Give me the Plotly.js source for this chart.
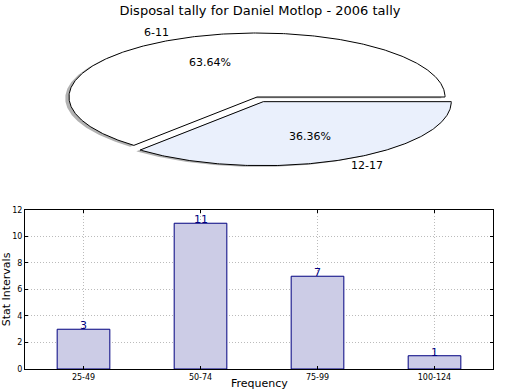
<!DOCTYPE html>
<html>
<head>
<meta charset="utf-8">
<script src="https://cdn.plot.ly/plotly-3.0.1.min.js"></script>
<style>html,body{margin:0;padding:0;background:#fff}#chart{width:520px;height:390px}</style>
</head>
<body>
<div id="chart"></div>
<script>
// ---- data ----
const pieLabels = ['6-11', '12-17'];
const pieValues = [7, 4];
const barCategories = ['25-49', '50-74', '75-99', '100-124'];
const barValues = [3, 11, 7, 1];
const chartTitle = 'Disposal tally for Daniel Motlop - 2006 tally';
const xTitle = 'Frequency';
const yTitle = 'Stat Intervals';

// ---- styles ----
const explode = [0, 0.08];
const pieColors = ['#ffffff', '#eaf0fc'];
const shadowOffset = [-0.02, -0.02];
const FONT = 'DejaVu Sans, sans-serif';

const total = pieValues.reduce((a, b) => a + b, 0);
const traces = [];
const annotations = [];

// wedge geometry computed from values (start at 0 rad, counter-clockwise)
let startFrac = 0;
const wedges = pieValues.map((v, i) => {
  const frac = v / total;
  const a0 = startFrac * 2 * Math.PI;
  const a1 = (startFrac + frac) * 2 * Math.PI;
  startFrac += frac;
  const mid = (a0 + a1) / 2;
  const cx = explode[i] * Math.cos(mid);
  const cy = explode[i] * Math.sin(mid);
  const xs = [cx], ys = [cy];
  const n = Math.max(8, Math.ceil((a1 - a0) / 0.01));
  for (let k = 0; k <= n; k++) {
    const a = a0 + (a1 - a0) * k / n;
    xs.push(cx + Math.cos(a));
    ys.push(cy + Math.sin(a));
  }
  xs.push(cx); ys.push(cy);
  return {xs, ys, mid, cx, cy, frac, i};
});

// shadows
wedges.forEach(w => {
  traces.push({
    type: 'scatter', mode: 'lines', xaxis: 'x2', yaxis: 'y2',
    x: w.xs.map(x => x + shadowOffset[0]), y: w.ys.map(y => y + shadowOffset[1]),
    fill: 'toself', fillcolor: 'rgba(0,0,0,0.3)', line: {width: 0},
    hoverinfo: 'skip', showlegend: false
  });
});
// wedges
wedges.forEach(w => {
  traces.push({
    type: 'scatter', mode: 'lines', xaxis: 'x2', yaxis: 'y2',
    x: w.xs, y: w.ys,
    fill: 'toself', fillcolor: pieColors[w.i], line: {color: '#000', width: 1},
    hoverinfo: 'skip', showlegend: false
  });
  const c = Math.cos(w.mid), s = Math.sin(w.mid);
  annotations.push({
    xref: 'x2', yref: 'y2', x: w.cx + 1.1 * c, y: w.cy + 1.1 * s,
    text: pieLabels[w.i], showarrow: false, xanchor: c < 0 ? 'right' : 'left', yanchor: 'middle',
    font: {family: FONT, size: 11, color: '#000'}
  });
  annotations.push({
    xref: 'x2', yref: 'y2', x: w.cx + 0.6 * c, y: w.cy + 0.6 * s,
    text: (w.frac * 100).toFixed(2) + '%', showarrow: false, xanchor: 'center', yanchor: 'middle',
    font: {family: FONT, size: 11, color: '#000'}
  });
});

// bars
traces.push({
  type: 'bar', x: barCategories, y: barValues, width: 0.45,
  marker: {color: '#ccccE6', line: {color: '#000080', width: 1}},
  hoverinfo: 'skip', showlegend: false, xaxis: 'x', yaxis: 'y'
});
barCategories.forEach((c, i) => {
  annotations.push({
    xref: 'x', yref: 'y', x: c, y: barValues[i], text: String(barValues[i]),
    showarrow: false, xanchor: 'center', yanchor: 'bottom', yshift: -5,
    font: {family: FONT, size: 11, color: '#000080'}
  });
});

// x axis title
annotations.push({
  xref: 'paper', yref: 'paper', x: 0.5, y: 0, xanchor: 'center', yanchor: 'middle', yshift: -14,
  text: xTitle, showarrow: false, font: {family: FONT, size: 11, color: '#000'}
});

const layout = {
  width: 520, height: 390,
  margin: {l: 25, r: 27, t: 20, b: 21},
  paper_bgcolor: '#fff', plot_bgcolor: 'rgba(0,0,0,0)',
  font: {family: FONT, color: '#000'},
  title: {text: chartTitle, x: 0.5, xanchor: 'center', yref: 'container', y: 0.974, yanchor: 'middle',
          font: {family: FONT, size: 13, color: '#000', weight: 'normal'}},
  showlegend: false,
  xaxis: {
    type: 'category', range: [-0.5, 3.5], domain: [0, 1], anchor: 'y',
    showline: true, linecolor: '#000', linewidth: 1, mirror: 'ticks',
    ticks: 'inside', ticklen: 3, tickcolor: '#000',
    showgrid: true, gridcolor: '#bbbbbb', griddash: '1px,2px', gridwidth: 1,
    tickfont: {family: FONT, size: 8, color: '#000'},
    zeroline: false, fixedrange: true
  },
  yaxis: {
    range: [0, 12], dtick: 2, domain: [0, 0.4556], anchor: 'x',
    showline: true, linecolor: '#000', linewidth: 1, mirror: 'ticks',
    ticks: 'inside', ticklen: 3, tickcolor: '#000',
    showgrid: true, gridcolor: '#bbbbbb', griddash: '1px,2px', gridwidth: 1,
    tickfont: {family: FONT, size: 8, color: '#000'},
    title: {text: yTitle, font: {family: FONT, size: 11, color: '#000'}, standoff: 1},
    zeroline: false, fixedrange: true
  },
  xaxis2: {domain: [0, 1], range: [-1.234, 1.255], visible: false, anchor: 'y2', fixedrange: true},
  yaxis2: {domain: [0.5415, 1], range: [-1.297, 1.203], visible: false, anchor: 'x2', fixedrange: true},
  annotations: annotations
};

Plotly.newPlot('chart', traces, layout, {displayModeBar: false, staticPlot: true});
</script>
</body>
</html>
